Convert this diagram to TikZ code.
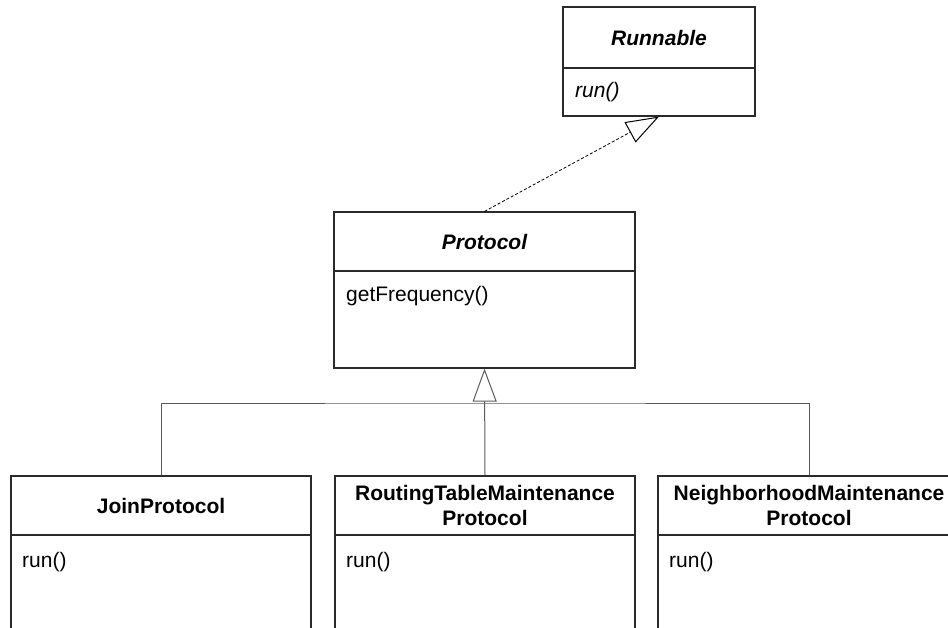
\documentclass[tikz,border=0pt]{standalone}
\usepackage{fontspec}
\setmainfont{Liberation Sans}
\usetikzlibrary{arrows.meta}
\definecolor{boxline}{HTML}{2A2A2A}
\definecolor{connline}{HTML}{5A5A5A}
\tikzset{
  cls/.style={draw=boxline, line width=1.2pt, rectangle, inner sep=0pt, align=center,
    font=\fontsize{21}{25.5}\selectfont},
  hdr/.style={cls, font=\fontsize{21}{25.5}\selectfont\bfseries},
  ahdr/.style={cls, font=\fontsize{21}{25.5}\selectfont\bfseries\itshape},
  op/.style={anchor=base west, inner sep=0pt, font=\fontsize{21}{25.5}\selectfont},
  aop/.style={op, font=\fontsize{21}{25.5}\selectfont\itshape},
  conn/.style={draw=connline, line width=1pt},
  realize/.style={draw=black, line width=0.8pt, dash pattern=on 3pt off 2pt,
    -{Triangle[open, length=33pt, width=23pt, line width=1pt]}},
  inherit/.style={conn, -{Triangle[open, length=33pt, width=24pt, line width=1pt]}}
}
\begin{document}
\begin{tikzpicture}[x=1pt, y=-1pt]
\useasboundingbox (0,0) rectangle (948,628);
\clip (0,0) rectangle (948,628);

% Runnable
\node[ahdr, minimum width=192pt, minimum height=61pt] (rh) at (659,37.5) {Runnable};
\node[cls, minimum width=192pt, minimum height=48pt] (rb) at (659,92) {};
\node[aop] (rop) at (575,98) {run()};

% Protocol
\node[ahdr, minimum width=301pt, minimum height=59pt] (ph) at (484.5,241.5) {Protocol};
\node[cls, minimum width=301pt, minimum height=97pt] (pb) at (484.5,319.5) {};
\node[op] (pop) at (346,302) {getFrequency()};

% JoinProtocol
\node[hdr, minimum width=300pt, minimum height=59pt] (jh) at (161,505.5) {JoinProtocol};
\node[cls, minimum width=300pt, minimum height=160pt] (jb) at (161,615) {};
\node[op] (jop) at (22,567) {run()};

% RoutingTableMaintenanceProtocol
\node[hdr, minimum width=300pt, minimum height=59pt] (th) at (485,505.5) {RoutingTableMaintenance\\Protocol};
\node[cls, minimum width=300pt, minimum height=160pt] (tb) at (485,615) {};
\node[op] (top) at (346,567) {run()};

% NeighborhoodMaintenanceProtocol
\node[hdr, minimum width=302pt, minimum height=59pt] (nh) at (809,505.5) {NeighborhoodMaintenance\\Protocol};
\node[cls, minimum width=302pt, minimum height=160pt] (nb) at (809,615) {};
\node[op] (nop) at (669,567) {run()};

% connectors
\coordinate (hub) at (485,403);
\draw[conn] (jh.north) |- (hub) -| (nh.north);
\draw[inherit] (th.north) -- (pb.south);
\draw[realize] (ph.north) -- (rb.south);
\end{tikzpicture}
\end{document}
